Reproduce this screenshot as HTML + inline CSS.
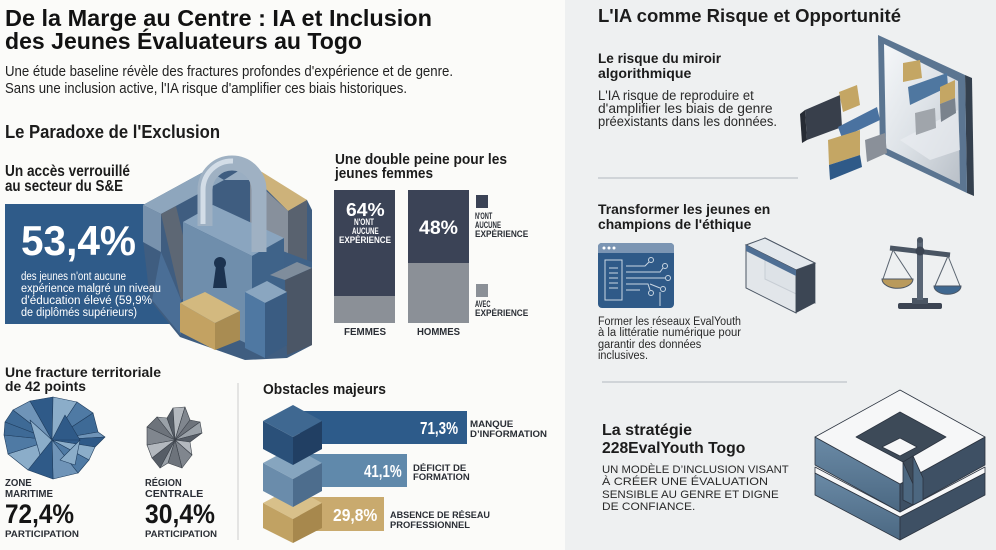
<!DOCTYPE html>
<html><head><meta charset="utf-8">
<style>
html,body{margin:0;padding:0;}
body{width:996px;height:550px;position:relative;overflow:hidden;background:#fbfbf9;font-family:"Liberation Sans",sans-serif;}
#rp{position:absolute;left:565px;top:0;width:431px;height:550px;background:#eef0f1;}
svg{position:absolute;left:0;top:0;}
.t{position:absolute;white-space:nowrap;transform-origin:0 0;line-height:1;color:#1c1c1c;font-family:"Liberation Sans",sans-serif;}
.b{font-weight:bold;}
.w{color:#fff;}
</style></head><body>
<div id="rp"></div>
<svg width="996" height="550" viewBox="0 0 996 550">
<defs>
<linearGradient id="gl" x1="0" y1="0" x2="1" y2="1">
<stop offset="0" stop-color="#f5f7f9"/><stop offset="0.5" stop-color="#dde2e7"/><stop offset="1" stop-color="#b9c0c8"/>
</linearGradient>
<linearGradient id="sq" x1="0" y1="0" x2="0" y2="1">
<stop offset="0" stop-color="#6a8aa6"/><stop offset="1" stop-color="#4b6882"/>
</linearGradient>
</defs>

<!-- blue card -->
<rect x="5" y="204" width="190" height="120" fill="#2f5b89"/>

<!-- lock composition -->
<polygon points="143,205 207,170 243,168 307,200 312,210 312,345 287,358 245,360 180,337 150,300 143,240" fill="#3f5d80"/>
<polygon points="143,205 207,170 224,180 161,214" fill="#8ea6bd"/>
<polygon points="143,205 161,214 161,252 143,242" fill="#7892ad"/>
<polygon points="161,214 176,206 196,290 181,300" fill="#5d6774"/>
<polygon points="161,252 181,300 181,335 152,300" fill="#4a6e96"/>
<polygon points="224,180 243,168 262,172 250,180" fill="#9aaec2"/>
<polygon points="243,166 262,172 307,200 288,211" fill="#cdb27a"/>
<polygon points="250,176 288,211 288,262 250,242" fill="#87909c"/>
<polygon points="288,211 307,200 307,265 288,277" fill="#59626f"/>
<polygon points="280,250 312,262 312,300 282,300" fill="#3f6288"/>
<!-- lock body -->
<polygon points="183,222 213,205 284,238 252,256" fill="#8aa5bf"/>
<polygon points="183,222 252,256 252,346 183,313" fill="#6f8eac"/>
<polygon points="252,256 284,238 284,328 252,346" fill="#3f6389"/>
<!-- shackle -->
<path d="M205 226 L205 190 A27 27 0 0 1 259 190 L259 252" fill="none" stroke="#9fb1c3" stroke-width="15"/>
<path d="M203 224 L203 190 A29 29 0 0 1 233 161" fill="none" stroke="#d3dde7" stroke-width="5"/>
<!-- keyhole -->
<circle cx="220" cy="263" r="6" fill="#1c3350"/>
<polygon points="216,266 224,266 227,288 213,288" fill="#1c3350"/>
<!-- tan block -->
<polygon points="180,303 205,292 240,311 215,323" fill="#d3b97f"/>
<polygon points="180,303 215,323 215,350 180,332" fill="#c3a262"/>
<polygon points="215,323 240,311 240,340 215,350" fill="#a98c52"/>
<!-- right dark block -->
<polygon points="270,275 297,262 312,268 285,280" fill="#7f8d9c"/>
<polygon points="285,280 312,268 312,345 287,355" fill="#4b5666"/>
<!-- blue small block -->
<polygon points="245,292 267,281 287,292 265,303" fill="#8aa6c0"/>
<polygon points="245,292 265,303 265,358 245,348" fill="#4f78a2"/>
<polygon points="265,303 287,292 287,345 265,358" fill="#3a5c82"/>

<!-- double bars -->
<rect x="334" y="190" width="61" height="106" fill="#3b4356"/>
<rect x="334" y="296" width="61" height="27" fill="#8b9097"/>
<rect x="408" y="190" width="61" height="73" fill="#3b4356"/>
<rect x="408" y="263" width="61" height="60" fill="#8b9097"/>
<rect x="476" y="195" width="12" height="13" fill="#3b4356"/>
<rect x="476" y="284" width="12" height="13" fill="#8b9097"/>

<!-- maritime map -->
<g stroke="#1f3d5e" stroke-width="0.6" stroke-linejoin="round">
<polygon points="52,440 5,422 13,410" fill="#3e6a96"/>
<polygon points="52,440 13,410 30,401" fill="#6f94b8"/>
<polygon points="52,440 30,401 53,397" fill="#2f5a88"/>
<polygon points="52,440 53,397 77,402" fill="#8badc9"/>
<polygon points="52,440 77,402 93,413" fill="#4f7aa4"/>
<polygon points="52,440 93,413 98,432" fill="#3e6a96"/>
<polygon points="52,440 98,432 105,437" fill="#6f94b8"/>
<polygon points="52,440 105,437 95,447" fill="#2f5a88"/>
<polygon points="52,440 95,447 89,460" fill="#8badc9"/>
<polygon points="52,440 89,460 78,473" fill="#4f7aa4"/>
<polygon points="52,440 78,473 53,479" fill="#6f94b8"/>
<polygon points="52,440 53,479 28,470" fill="#2f5a88"/>
<polygon points="52,440 28,470 8,454" fill="#8badc9"/>
<polygon points="52,440 8,454 4,435" fill="#4f7aa4"/>
<polygon points="52,440 4,435 5,422" fill="#3e6a96"/>
<polygon points="30,420 52,440 40,455" fill="#8badc9"/>
<polygon points="65,415 80,440 52,440" fill="#2f5a88"/>
<polygon points="60,460 80,440 75,465" fill="#8badc9"/>
</g>
<!-- centrale map -->
<g stroke="#3c424a" stroke-width="0.6" stroke-linejoin="round">
<polygon points="175,440 147,427 157,417" fill="#6d737b"/>
<polygon points="175,440 157,417 167,418" fill="#9aa1a8"/>
<polygon points="175,440 167,418 173,408" fill="#565d66"/>
<polygon points="175,440 173,408 185,407" fill="#b3b8be"/>
<polygon points="175,440 185,407 190,420" fill="#80868e"/>
<polygon points="175,440 190,420 200,422" fill="#6d737b"/>
<polygon points="175,440 200,422 202,433" fill="#9aa1a8"/>
<polygon points="175,440 202,433 190,442" fill="#565d66"/>
<polygon points="175,440 190,442 192,455" fill="#b3b8be"/>
<polygon points="175,440 192,455 182,468" fill="#80868e"/>
<polygon points="175,440 182,468 168,463" fill="#6d737b"/>
<polygon points="175,440 168,463 160,468" fill="#9aa1a8"/>
<polygon points="175,440 160,468 152,458" fill="#565d66"/>
<polygon points="175,440 152,458 147,445" fill="#b3b8be"/>
<polygon points="175,440 147,445 147,427" fill="#80868e"/>
</g>

<line x1="238" y1="383" x2="238" y2="540" stroke="#dcdcdc" stroke-width="1.5"/>

<!-- obstacles -->
<rect x="300" y="497" width="84" height="34" fill="#c9aa6e"/>
<polygon points="293,487 263,503 293,519 322,503" fill="#d8c08a"/>
<polygon points="263,503 293,519 293,543 263,528" fill="#c1a263"/>
<polygon points="293,519 322,503 322,528 293,543" fill="#a7884d"/>
<rect x="300" y="454" width="107" height="33" fill="#6089ab"/>
<polygon points="293,447 263,463 293,479 322,463" fill="#86a5bf"/>
<polygon points="263,463 293,479 293,507 263,491" fill="#6a8cab"/>
<polygon points="293,479 322,463 322,491 293,507" fill="#4d6d8d"/>
<rect x="300" y="411" width="167" height="33" fill="#2d5b8a"/>
<polygon points="293,405 263,421 293,437 322,421" fill="#3f6891"/>
<polygon points="263,421 293,437 293,465 263,449" fill="#2a5079"/>
<polygon points="293,437 322,421 322,449 293,465" fill="#213f63"/>

<!-- right dividers -->
<line x1="598" y1="178" x2="798" y2="178" stroke="#d0d4d8" stroke-width="2"/>
<line x1="602" y1="382" x2="847" y2="382" stroke="#d0d4d8" stroke-width="2"/>

<!-- mirror -->
<polygon points="965,75 972,78 974,196 967,193" fill="#34404e"/>
<polygon points="878,35 965,75 967,193 880,152" fill="#5b7591"/>
<polygon points="884,44 958,81 960,184 886,148" fill="url(#gl)"/>
<polygon points="900,140 958,110 960,150 930,160" fill="#e9edf1" opacity="0.7"/>
<polygon points="903,63 920,60 922,78 903,82" fill="#c4a664"/>
<polygon points="908,87 947,73 948,87 910,105" fill="#4f77a0"/>
<polygon points="940,87 955,80 955,98 940,104" fill="#c4a664"/>
<polygon points="940,104 955,98 956,113 941,122" fill="#7a838d"/>
<polygon points="915,113 935,108 936,128 916,135" fill="#a0a5ab"/>
<polygon points="805,110 840,95 842,127 807,140" fill="#383f4b"/>
<polygon points="805,110 800,114 802,143 807,140" fill="#262b34"/>
<polygon points="839,92 857,85 860,105 843,112" fill="#c4a664"/>
<polygon points="838,127 877,107 880,120 842,138" fill="#4a72a0"/>
<polygon points="828,140 860,130 860,155 829,165" fill="#c4a664"/>
<polygon points="829,165 860,155 862,167 830,180" fill="#2f5a88"/>
<polygon points="865,140 885,133 887,153 867,162" fill="#8a9099"/>

<!-- browser icon -->
<rect x="598" y="243" width="76" height="65" rx="4" fill="#2f5a88"/>
<path d="M598 253 L598 247 Q598 243 602 243 L670 243 Q674 243 674 247 L674 253 Z" fill="#7b95b3"/>
<circle cx="604" cy="248" r="1.5" fill="#fff"/><circle cx="609" cy="248" r="1.5" fill="#fff"/><circle cx="614" cy="248" r="1.5" fill="#fff"/>
<g stroke="#c9d6e2" stroke-width="1" fill="none">
<rect x="605" y="260" width="17" height="40"/>
<line x1="609" y1="268" x2="618" y2="268"/><line x1="609" y1="273" x2="618" y2="273"/><line x1="609" y1="278" x2="618" y2="278"/><line x1="609" y1="283" x2="618" y2="283"/><line x1="609" y1="288" x2="618" y2="288"/>
<path d="M626 266 L645 266 L649 262"/><circle cx="651" cy="260" r="2.5"/>
<path d="M626 272 L660 272 L663 268"/><circle cx="665" cy="266" r="2.5"/>
<path d="M626 278 L665 278"/><circle cx="668" cy="278" r="2.5"/>
<path d="M626 284 L648 284 L650 290"/><circle cx="651" cy="293" r="2.5"/>
<path d="M626 290 L640 290"/><path d="M650 284 L660 288"/><circle cx="663" cy="289" r="2.5"/>
<line x1="660" y1="292" x2="660" y2="306"/>
</g>

<!-- glass box -->
<polygon points="765,238 815,263 815,303 765,279" fill="#d6dce2" stroke="#6b7480" stroke-width="1"/>
<polygon points="746,245 765,238 815,263 796,270" fill="#e3e8ed" stroke="#4a5563" stroke-width="1"/>
<polygon points="746,245 796,270 796,313 746,288" fill="#dfe4e9" fill-opacity="0.8" stroke="#4a5563" stroke-width="1"/>
<polygon points="746,245 796,270 796,276 746,251" fill="#4f6f94"/>
<polygon points="796,270 815,263 815,303 796,313" fill="#3c4654"/>

<!-- scale -->
<rect x="898" y="303" width="44" height="6" rx="2" fill="#3b4452"/>
<rect x="912" y="298" width="16" height="6" fill="#4a5563"/>
<rect x="917" y="240" width="6" height="60" fill="#5a6675"/>
<circle cx="920" cy="240" r="3" fill="#4a5563"/>
<line x1="890" y1="248" x2="950" y2="255" stroke="#4a5563" stroke-width="5"/>
<circle cx="920" cy="251" r="4.5" fill="#3b4452"/>
<g stroke="#5a6470" stroke-width="1">
<line x1="893" y1="250" x2="883" y2="279"/><line x1="893" y1="250" x2="912" y2="279"/>
<line x1="948" y1="256" x2="935" y2="286"/><line x1="948" y1="256" x2="960" y2="286"/>
</g>
<path d="M882 279 A15 9 0 0 0 913 279 Z" fill="#b99a5c" stroke="#4a5563" stroke-width="1"/>
<path d="M934 286 A13 8 0 0 0 961 286 Z" fill="#3f6890" stroke="#4a5563" stroke-width="1"/>

<!-- 3D square -->
<g stroke="#2c3440" stroke-width="0.8" stroke-linejoin="round">
<polygon points="815,473 900,517 900,540 815,495" fill="url(#sq)"/>
<polygon points="900,517 985,473 985,495 900,540" fill="#3e5064"/>
<polygon points="815,467 900,512 985,467 985,473 900,517 815,473" fill="#f6f7f8"/>
<polygon points="815,437 900,484 900,512 815,465" fill="url(#sq)"/>
<polygon points="900,484 985,437 985,465 900,512" fill="#3e5064"/>
<polygon points="900,390 985,437 900,484 815,437" fill="#f6f7f8"/>
<polygon points="856,437 900,412 946,437 903,462" fill="#3d4a58"/>
<polygon points="882,447 900,438 917,447 900,456" fill="#f6f7f8"/>
<polygon points="903,462 913,456 923,478 913,484" fill="#3d4a58"/>
<polygon points="903,462 913,484 913,505 903,500" fill="#4c6780"/>
<polygon points="913,456 923,478 923,500 913,505" fill="#4c6780"/>
</g>
</svg>

<!-- LEFT TEXT -->
<div class="t b" style="left:5px;top:7.1px;font-size:23.5px;color:#121212;--w:427">De la Marge au Centre : IA et Inclusion</div>
<div class="t b" style="left:5px;top:30.1px;font-size:23.5px;color:#121212;--w:357">des Jeunes Évaluateurs au Togo</div>
<div class="t" style="left:5px;top:64.7px;font-size:14.5px;color:#222;--w:448">Une étude baseline révèle des fractures profondes d'expérience et de genre.</div>
<div class="t" style="left:5px;top:81.7px;font-size:14.5px;color:#222;--w:402">Sans une inclusion active, l'IA risque d'amplifier ces biais historiques.</div>
<div class="t b" style="left:5px;top:123.3px;font-size:18.5px;--w:215">Le Paradoxe de l'Exclusion</div>
<div class="t b" style="left:5px;top:163.9px;font-size:15.5px;--w:125">Un accès verrouillé</div>
<div class="t b" style="left:5px;top:179px;font-size:15.5px;--w:118">au secteur du S&amp;E</div>
<div class="t b w" style="left:21px;top:220.4px;font-size:42px;--w:115">53,4%</div>
<div class="t w" style="left:21px;top:272.3px;font-size:11.5px;--w:105">des jeunes n'ont aucune</div>
<div class="t w" style="left:21px;top:284px;font-size:11.5px;--w:140">expérience malgré un niveau</div>
<div class="t w" style="left:21px;top:295.8px;font-size:11.5px;--w:131">d'éducation élevé (59,9%</div>
<div class="t w" style="left:21px;top:307.6px;font-size:11.5px;--w:116">de diplômés supérieurs)</div>

<div class="t b" style="left:335px;top:152.3px;font-size:15px;--w:172">Une double peine pour les</div>
<div class="t b" style="left:335px;top:165.5px;font-size:15px;--w:98">jeunes femmes</div>
<div class="t b w" style="left:345.7px;top:200.8px;font-size:18px;--w:38.6">64%</div>
<div class="t b w" style="left:354.3px;top:218.4px;font-size:9px;--w:20">N'ONT</div>
<div class="t b w" style="left:351.7px;top:227.4px;font-size:9px;--w:26.7">AUCUNE</div>
<div class="t b w" style="left:339px;top:236.4px;font-size:9px;--w:52">EXPÉRIENCE</div>
<div class="t b w" style="left:419px;top:218.9px;font-size:19px;--w:39">48%</div>
<div class="t b" style="left:344px;top:328.2px;font-size:10px;color:#2a2e35;--w:42">FEMMES</div>
<div class="t b" style="left:417px;top:328.2px;font-size:10px;color:#2a2e35;--w:43">HOMMES</div>
<div class="t b" style="left:475px;top:212px;font-size:9.5px;color:#2a2e35;--w:17.3">N'ONT</div>
<div class="t b" style="left:475px;top:221.3px;font-size:9.5px;color:#2a2e35;--w:26">AUCUNE</div>
<div class="t b" style="left:475px;top:230.3px;font-size:9.5px;color:#2a2e35;--w:53.3">EXPÉRIENCE</div>
<div class="t b" style="left:475px;top:299.7px;font-size:9.5px;color:#2a2e35;--w:15.5">AVEC</div>
<div class="t b" style="left:475px;top:308.7px;font-size:9.5px;color:#2a2e35;--w:53.3">EXPÉRIENCE</div>

<div class="t b" style="left:5px;top:365.2px;font-size:14px;--w:156">Une fracture territoriale</div>
<div class="t b" style="left:5px;top:378.5px;font-size:14px;--w:81">de 42 points</div>
<div class="t b" style="left:5px;top:479.2px;font-size:10px;color:#2a2e35;--w:26.7">ZONE</div>
<div class="t b" style="left:5px;top:489.8px;font-size:10px;color:#2a2e35;--w:48">MARITIME</div>
<div class="t b" style="left:5px;top:501.4px;font-size:27px;color:#151515;--w:69">72,4%</div>
<div class="t b" style="left:5px;top:529.7px;font-size:9.5px;color:#2a2e35;--w:74">PARTICIPATION</div>
<div class="t b" style="left:145px;top:479.2px;font-size:10px;color:#2a2e35;--w:36.7">RÉGION</div>
<div class="t b" style="left:145px;top:489.8px;font-size:10px;color:#2a2e35;--w:58.3">CENTRALE</div>
<div class="t b" style="left:145px;top:501.4px;font-size:27px;color:#151515;--w:70">30,4%</div>
<div class="t b" style="left:145px;top:529.7px;font-size:9.5px;color:#2a2e35;--w:72">PARTICIPATION</div>

<div class="t b" style="left:262.7px;top:382.7px;font-size:14.5px;--w:123">Obstacles majeurs</div>
<div class="t b w" style="left:420px;top:420.2px;font-size:17.5px;--w:38">71,3%</div>
<div class="t b" style="left:470px;top:420.3px;font-size:9.5px;color:#2a2e35;--w:43.3">MANQUE</div>
<div class="t b" style="left:470px;top:430.3px;font-size:9.5px;color:#2a2e35;--w:77">D’INFORMATION</div>
<div class="t b w" style="left:364px;top:463.2px;font-size:17.5px;--w:37.7">41,1%</div>
<div class="t b" style="left:413.3px;top:463.7px;font-size:9.5px;color:#2a2e35;--w:53.3">DÉFICIT DE</div>
<div class="t b" style="left:413.3px;top:473px;font-size:9.5px;color:#2a2e35;--w:56.7">FORMATION</div>
<div class="t b w" style="left:333px;top:506.9px;font-size:17.5px;--w:44.3">29,8%</div>
<div class="t b" style="left:390px;top:511px;font-size:9.5px;color:#2a2e35;--w:100">ABSENCE DE RÉSEAU</div>
<div class="t b" style="left:390px;top:521.3px;font-size:9.5px;color:#2a2e35;--w:80">PROFESSIONNEL</div>

<!-- RIGHT TEXT -->
<div class="t b" style="left:597.7px;top:6.5px;font-size:18px;--w:303">L'IA comme Risque et Opportunité</div>
<div class="t b" style="left:597.7px;top:50.9px;font-size:14px;--w:123">Le risque du miroir</div>
<div class="t b" style="left:597.7px;top:65.5px;font-size:14px;--w:93.3">algorithmique</div>
<div class="t" style="left:597.7px;top:88.6px;font-size:13.5px;color:#2a2a2a;--w:155.7">L'IA risque de reproduire et</div>
<div class="t" style="left:597.7px;top:102px;font-size:13.5px;color:#2a2a2a;--w:174.6">d'amplifier les biais de genre</div>
<div class="t" style="left:597.7px;top:115.4px;font-size:13.5px;color:#2a2a2a;--w:179">préexistants dans les données.</div>
<div class="t b" style="left:597.7px;top:201.5px;font-size:14px;--w:172.3">Transformer les jeunes en</div>
<div class="t b" style="left:597.7px;top:217px;font-size:14px;--w:153.3">champions de l'éthique</div>
<div class="t" style="left:597.7px;top:317px;font-size:11.5px;color:#2a2a2a;--w:143">Former les réseaux EvalYouth</div>
<div class="t" style="left:597.7px;top:328.3px;font-size:11.5px;color:#2a2a2a;--w:143">à la littératie numérique pour</div>
<div class="t" style="left:597.7px;top:339.6px;font-size:11.5px;color:#2a2a2a;--w:103.3">garantir des données</div>
<div class="t" style="left:597.7px;top:350.9px;font-size:11.5px;color:#2a2a2a;--w:50">inclusives.</div>
<div class="t b" style="left:601.7px;top:422.5px;font-size:16px;--w:90">La stratégie</div>
<div class="t b" style="left:601.7px;top:440.5px;font-size:16px;--w:143.3">228EvalYouth Togo</div>
<div class="t" style="left:601.7px;top:465px;font-size:11px;color:#2a2a2a;--w:186.7">UN MODÈLE D’INCLUSION VISANT</div>
<div class="t" style="left:601.7px;top:477.4px;font-size:11px;color:#2a2a2a;--w:166">À CRÉER UNE ÉVALUATION</div>
<div class="t" style="left:601.7px;top:489.7px;font-size:11px;color:#2a2a2a;--w:176.7">SENSIBLE AU GENRE ET DIGNE</div>
<div class="t" style="left:601.7px;top:501.7px;font-size:11px;color:#2a2a2a;--w:93.3">DE CONFIANCE.</div>

<script>
document.querySelectorAll('.t').forEach(function(e){
  var w=parseFloat(getComputedStyle(e).getPropertyValue('--w'));
  if(!w)return;
  var r=e.getBoundingClientRect().width;
  if(r>0){e.style.transform='scaleX('+(w/r)+')';}
});
</script>
</body></html>
